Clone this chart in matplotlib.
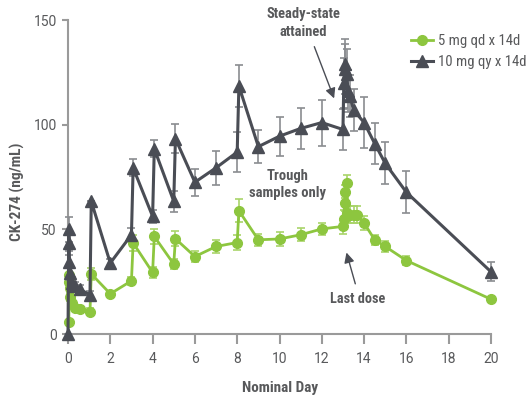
import matplotlib
matplotlib.use("Agg")
import matplotlib.pyplot as plt
from matplotlib import font_manager

# ---- data ----
day_green = [0.04, 0.06, 0.07, 0.08, 0.1, 0.19, 0.35, 0.58, 1.04, 1.1, 2, 3, 3.08, 4, 4.08, 5, 5.08, 6, 7, 8, 8.08,
             9, 10, 11, 12, 13, 13.04, 13.08, 13.12, 13.17, 13.21, 13.25, 13.33, 13.5, 13.67, 14, 14.5, 15, 16, 20]
conc_green = [5.9, 28.3, 25, 22, 17.9, 14.7, 12.3, 11.8, 10.7, 28.7, 19.2, 25.4, 43.5, 29.4, 46.6, 33.4, 45.5, 37, 41.8, 43.7, 58.9,
              45, 45.4, 47.4, 50.2, 51.4, 55, 62.6, 68, 72, 58, 57, 57, 57, 57, 53, 45, 41.8, 35.1, 16.6]
sd_green = [1, 3, 3, 3, 2, 2, 1.5, 1.5, 1.5, 3, 1.5, 2, 4, 2.5, 3.5, 2.5, 3.5, 2.5, 3, 3.5, 5.5,
            3, 3.5, 3, 3, 3.5, 4, 4, 3, 4, 4, 4, 4, 4, 4, 3.5, 2.5, 2.5, 2, 1]

day_gray = [0, 0.04, 0.05, 0.06, 0.1, 0.2, 0.35, 0.55, 1.04, 1.1, 2, 3, 3.08, 4, 4.08, 5, 5.08, 6, 7, 8, 8.08,
            9, 10, 11, 12, 13, 13.04, 13.08, 13.12, 13.17, 13.25, 13.33, 13.5, 14, 14.5, 15, 16, 20]
conc_gray = [0, 50, 43.6, 34.6, 29, 24.4, 23, 21.4, 18.7, 63.4, 33.9, 47.4, 79.4, 56.2, 88.5, 63.4, 93.3, 72.5, 79.4, 86.9, 118.5,
             89.5, 94.5, 98.2, 101, 97.7, 120, 126.5, 129, 124, 116, 113.7, 107, 101, 91, 81.5, 67.7, 29.7]
sd_gray = [0, 6, 4, 3, 3, 3, 2, 2, 2, 0, 2, 3, 4, 3, 4, 5, 7, 6.5, 8, 9.5, 10,
           8, 9.3, 10, 11, 10, 12, 12, 12, 12, 10, 10, 10, 12, 10, 10, 10, 4.5]

labels = ["5 mg qd x 14d", "10 mg qy x 14d"]
xticks = [0, 2, 4, 6, 8, 10, 12, 14, 16, 18, 20]
yticks = [0, 50, 100, 150]

# ---- font: prefer a condensed sans if one is installed ----
entries = font_manager.fontManager.ttflist
names = {f.name for f in entries}
family = None
for cand in ['Liberation Sans Narrow', 'Roboto Condensed', 'Open Sans Condensed', 'DejaVu Sans Condensed',
             'Noto Sans Condensed']:
    if cand in names:
        family = cand
        break
if family is None:
    for f in entries:
        if 'Narrow' in f.name or 'Condensed' in f.name:
            family = f.name
            break
if family is None:
    family = 'Liberation Sans'
plt.rcParams['font.family'] = [family, 'DejaVu Sans']
TICKFONT = ['Roboto', 'Liberation Sans', 'DejaVu Sans']

GREEN = '#8dc63f'
GREEN_ERR = '#a9d46a'
DARK = '#4a4d55'
DARK_ERR = '#8a8c90'
TXT = '#58595b'
SPINE = '#9a9a9a'

W, H = 532, 401
fig = plt.figure(figsize=(W / 100, H / 100), dpi=100)
ax = fig.add_axes([68 / W, 67 / H, (491 - 68) / W, (334 - 20) / H])

ax.errorbar(day_green, conc_green, yerr=sd_green, fmt='none', ecolor=GREEN_ERR, elinewidth=1.2,
            capsize=3, capthick=1.2, zorder=2, clip_on=False)
ax.plot(day_green, conc_green, '-o', color=GREEN, lw=2.0, ms=7, mec=GREEN, label=labels[0],
        zorder=3, clip_on=False)
ax.errorbar(day_gray, conc_gray, yerr=sd_gray, fmt='none', ecolor=DARK_ERR, elinewidth=1.2,
            capsize=3, capthick=1.2, zorder=4, clip_on=False)
ax.plot(day_gray, conc_gray, '-^', color=DARK, lw=2.2, ms=8, mec=DARK, label=labels[1],
        zorder=5, clip_on=False)

ax.set_xlim(0, 20)
ax.set_ylim(0, 150)
ax.set_xticks(xticks)
ax.set_yticks(yticks)
for s in ['top', 'right']:
    ax.spines[s].set_visible(False)
for s in ['left', 'bottom']:
    ax.spines[s].set_color(SPINE)
    ax.spines[s].set_linewidth(1.5)
ax.tick_params(axis='x', length=7, width=1.5, color=SPINE, labelsize=10, labelcolor=TXT, pad=6)
ax.tick_params(axis='y', length=4, width=1.5, color=SPINE, labelsize=10, labelcolor=TXT, pad=4)
for lab in ax.get_xticklabels() + ax.get_yticklabels():
    lab.set_family(TICKFONT)

# axis titles placed at the reference pixel positions
xl = fig.text(280 / W, 1 - 388 / H, "Nominal Day", ha='center', va='center', fontsize=11,
              color=TXT, fontweight='bold')
yl = fig.text(17 / W, 1 - 192 / H, "CK-274 (ng/mL)", ha='center', va='center', rotation=90,
              fontsize=11, color=TXT, fontweight='bold')

t_ss = ax.text(11.11, 148.5, "Steady-state\nattained", ha='center', va='center', fontsize=11,
               color=TXT, fontweight='bold', linespacing=1.35)
ax.annotate("", xy=(12.63, 111.3), xytext=(11.6, 138.5),
            arrowprops=dict(arrowstyle='-|>,head_length=0.6,head_width=0.3', color=DARK, lw=1.0))
t_tr = ax.text(10.4, 71.4, "Trough\nsamples only", ha='center', va='center', fontsize=11,
               color=TXT, fontweight='bold', linespacing=1.25)
t_ld = ax.text(13.69, 16.8, "Last dose", ha='center', va='center', fontsize=11,
               color=TXT, fontweight='bold')
ax.annotate("", xy=(13.13, 40.2), xytext=(13.62, 22.7),
            arrowprops=dict(arrowstyle='-|>,head_length=0.6,head_width=0.3', color=DARK, lw=1.0))

# ---- fit text sizes to the reference's pixel widths ----
fig.canvas.draw()
r = fig.canvas.get_renderer()

def fit(artist, target, use_height=False):
    bb = artist.get_window_extent(r)
    w = bb.height if use_height else bb.width
    if w > 0:
        artist.set_fontsize(artist.get_fontsize() * target / w)

fit(t_ss, 74)
fit(t_tr, 77)
fit(t_ld, 55)
fit(xl, 76)
fit(yl, 98, use_height=True)
fs_leg = 11.0
tmp = ax.text(0, 0, labels[1], fontsize=fs_leg)
bb = tmp.get_window_extent(r)
fs_leg = fs_leg * 88 / bb.width
tmp.remove()

leg_px = fs_leg * 100 / 72.0
leg = ax.legend(loc='upper left', bbox_to_anchor=((411 - 68) / 423, (334 - 34) / 314), frameon=False,
                fontsize=fs_leg, handlelength=22 / leg_px, handletextpad=5 / leg_px,
                labelspacing=(21.6 - leg_px) / leg_px, borderaxespad=0, borderpad=0)
for t in leg.get_texts():
    t.set_color(TXT)

fig.savefig("out.png", dpi=100)
